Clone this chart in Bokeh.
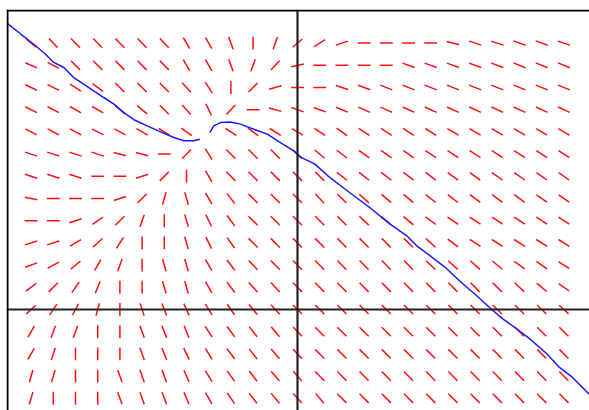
import math
from bokeh.plotting import figure
from bokeh.models import Span, ColumnDataSource
from bokeh.embed import file_html
from bokeh.resources import INLINE

# ---- grid positions (data units) ----
grid_x = list(range(-12, 13))          # 25 columns
grid_y = list(range(12, -5, -1))       # 17 rows, top to bottom

# ---- slope-field segment angles (degrees), columns x=-12..12 ----
# None = no segment drawn (singular point)
angles_y12 = [-40, -47, -45, -47, -45, -45, -47, -60, -60, -70, 90, 70, 40,
              32, 18, 0, 0, 0, 0, -15, -18, -18, -20, -20, -18]
angles_y11 = [-24, -28, -45, -45, -45, -45, -45, -60, -60, -70, 70, 47, 12,
              0, 0, 0, 0, -20, -20, -20, -20, -20, -22, -22, -22]
angles_y10 = [-25, -27, -33, -36, -45, -45, -45, -47, -57, 90, 45, 15, 0,
              0, -18, -20, -22, -22, -22, -22, -22, -22, -22, -22, -22]
angles_y9 = [-27, -27, -30, -30, -42, -40, -45, -47, -64, 47, 0, -15, -20,
             -20, -22, -24, -24, -25, -25, -25, -25, -25, -25, -25, -25]
angles_y8 = [-28, -28, -28, -28, -28, -30, -32, -35, None, -32, -36, -32, -30,
             -33, -35, -33, -33, -33, -32, -30, -30, -30, -30, -30, -30]
angles_y7 = [-18, -18, -18, -18, -15, -15, 0, 45, -58, -45, -45, -45, -42,
             -40, -37, -36, -35, -35, -34, -34, -33, -33, -33, -33, -33]
angles_y6 = [-18, -18, -18, 0, 0, 18, 45, 90, -60, -45, -45, -45, -45,
             -45, -38, -38, -38, -37, -37, -36, -36, -35, -35, -35, -35]
angles_y5 = [-12, 0, 0, 0, 18, 45, 74, -74, -60, -53, -45, -45, -45,
             -47, -45, -42, -40, -40, -38, -38, -37, -36, -36, -35, -35]
angles_y4 = [0, 0, 18, 35, 45, 70, 90, -74, -64, -53, -45, -45, -45,
             -45, -45, -43, -41, -40, -36, -34, -33, -33, -33, -33, -33]
angles_y3 = [18, 18, 30, 43, 58, 90, 90, -74, -64, -55, -45, -45, -45,
             -45, -45, -45, -45, -45, -42, -37, -33, -32, -32, -32, -32]
angles_y2 = [20, 28, 40, 60, 70, 90, -74, -74, -60, -53, -47, -45, -45,
             -45, -45, -45, -45, -45, -43, -42, -42, -40, -36, -35, -33]
angles_y1 = [37, 45, 55, 68, 90, 90, -74, -74, -60, -53, -47, -47, -45,
             -45, -45, -45, -45, -45, -45, -45, -45, -45, -42, -40, -35]
angles_y0 = [42, 56, 63, 75, 90, -72, -68, -66, -58, -55, -50, -47, -45,
             -45, -45, -45, -45, -45, -45, -45, -45, -45, -45, -45, -42]
angles_ym1 = [60, 70, 70, 90, 90, -70, -68, -68, -57, -53, -52, -50, -46,
              -45, -45, -45, -45, -45, -45, -45, -45, -45, -45, -45, -45]
angles_ym2 = [60, 72, 90, 90, 90, -70, -68, -64, -59, -53, -52, -50, -47,
              -45, -45, -45, -45, -45, -45, -45, -45, -45, -45, -45, -45]
angles_ym3 = [74, 74, 90, 90, -70, -70, -70, -67, -59, -54, -52, -50, -48,
              -45, -45, -45, -45, -45, -45, -45, -45, -45, -45, -45, -45]
angles_ym4 = [74, 90, 90, 90, -70, -70, -70, -67, -60, -55, -52, -50, -48,
              -50, -45, -45, -45, -45, -45, -45, -45, -45, -45, -45, -45]

angle_rows = [angles_y12, angles_y11, angles_y10, angles_y9, angles_y8, angles_y7,
              angles_y6, angles_y5, angles_y4, angles_y3, angles_y2, angles_y1,
              angles_y0, angles_ym1, angles_ym2, angles_ym3, angles_ym4]

# ---- solution curve (two branches, split at the singular point) ----
curve1_x = [-13.06, -12.48, -11.88, -11.35, -10.98, -10.53, -10.08, -9.63, -9.18,
            -8.73, -8.27, -7.82, -7.37, -6.77, -6.17, -5.57, -5.12, -4.67, -4.40]
curve1_y = [12.88, 12.42, 11.95, 11.50, 11.13, 10.90, 10.45, 10.15, 9.85,
            9.55, 9.25, 8.87, 8.55, 8.27, 8.00, 7.75, 7.60, 7.60, 7.67]
curve2_x = [-3.95, -3.77, -3.47, -3.02, -2.57, -1.97, -1.36, -0.77, -0.17, 0.09,
            0.77, 1.44, 2.12, 2.72, 3.32, 4.14, 4.91, 5.36, 6.08, 6.71, 7.43,
            8.06, 8.65, 9.23, 9.86, 10.45, 11.22, 11.80, 12.39, 13.06, 13.2]
curve2_y = [7.97, 8.27, 8.42, 8.45, 8.35, 8.12, 7.90, 7.52, 7.15, 6.89,
            6.56, 5.96, 5.44, 4.99, 4.54, 3.87, 3.33, 2.88, 2.34, 1.85, 1.17,
            0.63, 0.09, -0.41, -0.86, -1.31, -1.98, -2.61, -3.06, -3.74, -3.85]

# ---- build segment table ----
HALF = 0.29
x0s, y0s, x1s, y1s = [], [], [], []
for gy, row in zip(grid_y, angle_rows):
    for gx, a in zip(grid_x, row):
        if a is None:
            continue
        t = math.radians(a)
        dx, dy = HALF * math.cos(t), HALF * math.sin(t)
        x0s.append(gx - dx); y0s.append(gy - dy)
        x1s.append(gx + dx); y1s.append(gy + dy)
seg_src = ColumnDataSource(dict(x0=x0s, y0=y0s, x1=x1s, y1=y1s))

p = figure(width=589, height=410, output_backend="svg", toolbar_location=None,
           x_range=(-13.108, 13.153), y_range=(-4.549, 13.514),
           x_axis_type=None, y_axis_type=None,
           min_border_left=6, min_border_top=9,
           min_border_right=0, min_border_bottom=0)
p.outline_line_color = None
p.grid.visible = False
p.background_fill_color = "white"
p.border_fill_color = "white"

# axes through the origin
p.add_layout(Span(location=0, dimension="height", line_color="#222222", line_width=2.2))
p.add_layout(Span(location=0, dimension="width", line_color="#222222", line_width=2.2))

# slope field
p.segment("x0", "y0", "x1", "y1", source=seg_src, line_color="#ff1010", line_width=1.5)

# solution curve
p.line(curve1_x, curve1_y, line_color="#1a1aff", line_width=1.5)
p.line(curve2_x, curve2_y, line_color="#1a1aff", line_width=1.5)

# frame borders (top and left only, as visible in the picture)
p.add_layout(Span(location=13.468, dimension="width", line_color="black", line_width=2))
p.add_layout(Span(location=-13.063, dimension="height", line_color="black", line_width=2))

open("out.html", "w").write(file_html(p, INLINE))
